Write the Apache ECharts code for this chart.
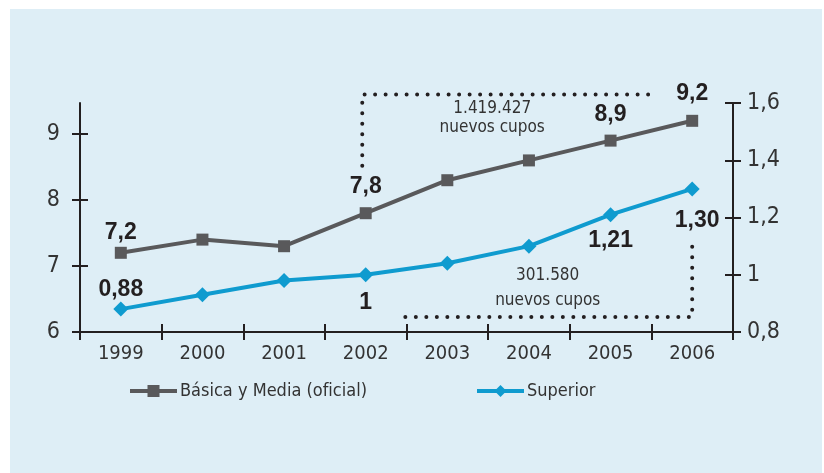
<!DOCTYPE html>
<html lang="es">
<head>
  <meta charset="UTF-8">
  <title>Cupos</title>
  <style>
    html, body { margin: 0; padding: 0; background: #fff; }
    #chart {
      width: 824px; height: 473px;
      background: linear-gradient(#deeef6, #deeef6) no-repeat 10px 9px / 812px 464px, #fff;
    }
  </style>
</head>
<body>
  <div id="chart"></div>
</body>

<script src="https://cdn.jsdelivr.net/npm/echarts@6/dist/echarts.min.js"></script>

<script>
  // datos
  const years = ['1999', '2000', '2001', '2002', '2003', '2004', '2005', '2006'];
  const basica = [7.2, 7.4, 7.3, 7.8, 8.3, 8.6, 8.9, 9.2];
  const superior = [0.88, 0.93, 0.98, 1.00, 1.04, 1.10, 1.21, 1.30];
  const leftTicks = [6, 7, 8, 9];
  const rightTicks = [0.8, 1, 1.2, 1.4, 1.6];
  const notaBasica = ['1.419.427', 'nuevos cupos'];
  const notaSuperior = ['301.580', 'nuevos cupos'];

  // which points get a value label, and where
  const basicaLabels = {
    0: { position: 'top', distance: 3 },
    3: { position: 'top', distance: 9 },
    6: { position: 'top', distance: 8 },
    7: { position: 'top', distance: 10 }
  };
  const superiorLabels = {
    0: { position: 'top', distance: 0 },
    3: { position: 'bottom', distance: 9 },
    6: { position: 'bottom', distance: 7 },
    7: { position: 'bottom', distance: 13, offset: [5, 0] }
  };

  const narrow = "'Liberation Sans Narrow', 'DejaVu Sans Condensed', 'Roboto', sans-serif";
  const dark = '#231f20';
  const gris = '#59595b';
  const azul = '#0f9bcf';

  const fmt = (v, dec) => String(+(+v).toFixed(dec)).replace('.', ',');
  const fmt2 = v => {
    const s = (+v).toFixed(2);
    return s.endsWith('.00') ? s.slice(0, -3) : s.replace('.', ',');
  };

  const valueLabel = {
    fontSize: 23,
    fontWeight: 'bold',
    color: dark,
    fontFamily: "'Liberation Sans', Arial, sans-serif"
  };

  function buildData(values, labels, formatter) {
    return values.map((v, i) => {
      const cfg = labels[i];
      if (!cfg) return { value: v, label: { show: false } };
      return {
        value: v,
        label: Object.assign({ show: true, formatter: () => formatter(v) }, valueLabel, cfg)
      };
    });
  }

  const myChart = echarts.init(document.getElementById('chart'));

  const axisLine = { show: true, lineStyle: { color: dark, width: 2 } };
  const legendBase = {
    top: 382,
    padding: 0,
    itemWidth: 47, itemHeight: 15, itemGap: 0,
    lineStyle: { width: 4 },
    textStyle: { fontSize: 18, color: '#333', fontFamily: narrow, padding: [0, 0, 0, -2] }
  };

  const option = {
    animation: false,
    textStyle: { fontFamily: narrow },
    grid: { left: 80, right: 91, top: 103, bottom: 141 },
    legend: [
      Object.assign({ data: ['Básica y Media (oficial)'], left: 128 }, legendBase),
      Object.assign({ data: ['Superior'], left: 475 }, legendBase)
    ],
    xAxis: [
      {
        type: 'category',
        data: years,
        boundaryGap: true,
        axisLine: axisLine,
        axisTick: { show: true, length: 8, lineStyle: { color: dark, width: 2 } },
        axisLabel: { fontSize: 20, color: '#333', margin: 12, fontFamily: narrow }
      },
      {
        type: 'category',
        data: years,
        position: 'bottom',
        boundaryGap: true,
        axisLine: { show: false },
        axisTick: { show: true, inside: true, length: 8, lineStyle: { color: dark, width: 2 } },
        axisLabel: { show: false }
      }
    ],
    yAxis: [
      {
        type: 'value',
        min: 6, max: 9.47,
        position: 'left',
        splitLine: { show: false },
        axisLine: axisLine,
        axisTick: { show: true, length: 8, customValues: leftTicks, lineStyle: { color: dark, width: 2 } },
        axisLabel: { fontSize: 23, color: '#333', margin: 20, customValues: leftTicks, fontFamily: narrow }
      },
      {
        type: 'value',
        min: 0.8, max: 1.6, interval: 0.2,
        position: 'right',
        splitLine: { show: false },
        axisLine: axisLine,
        axisTick: { show: true, length: 8, lineStyle: { color: dark, width: 2 } },
        axisLabel: { fontSize: 23, color: '#333', margin: 14, fontFamily: narrow, formatter: v => fmt(v, 1) }
      },
      {
        type: 'value',
        min: 6, max: 9.47,
        position: 'left',
        splitLine: { show: false },
        axisLine: { show: false },
        axisTick: { show: true, inside: true, length: 8, customValues: leftTicks, lineStyle: { color: dark, width: 2 } },
        axisLabel: { show: false }
      },
      {
        type: 'value',
        min: 0.8, max: 1.6, interval: 0.2,
        position: 'right',
        splitLine: { show: false },
        axisLine: { show: false },
        axisTick: { show: true, inside: true, length: 8, lineStyle: { color: dark, width: 2 } },
        axisLabel: { show: false }
      }
    ],
    series: [
      {
        name: 'Básica y Media (oficial)',
        type: 'line',
        yAxisIndex: 0,
        symbol: 'rect',
        symbolSize: 12,
        color: gris,
        lineStyle: { color: gris, width: 4 },
        itemStyle: { color: gris },
        data: buildData(basica, basicaLabels, v => fmt(v, 1)),
        z: 3
      },
      {
        name: 'Superior',
        type: 'line',
        yAxisIndex: 1,
        symbol: 'diamond',
        symbolSize: 15,
        color: azul,
        lineStyle: { color: azul, width: 4 },
        itemStyle: { color: azul },
        data: buildData(superior, superiorLabels, fmt2),
        z: 3
      }
    ]
  };

  myChart.setOption(option);

  // dotted brackets, anchored in (category index, left-axis value);
  // the category axis snaps to whole indices, so interpolate between bands
  const px = p => {
    const a = myChart.convertToPixel({ xAxisIndex: 0, yAxisIndex: 0 }, [0, p[1]]);
    const b = myChart.convertToPixel({ xAxisIndex: 0, yAxisIndex: 0 }, [1, p[1]]);
    return [a[0] + p[0] * (b[0] - a[0]), a[1]];
  };
  const dots = { stroke: dark, lineWidth: 4, lineCap: 'round', lineDash: [0, 10.5], fill: null };
  const note = (p, text) => {
    const q = px(p);
    return {
      type: 'text', x: q[0], y: q[1], z: 10,
      style: { text: text, fill: '#333', font: '17px ' + narrow, align: 'center', verticalAlign: 'middle' }
    };
  };

  myChart.setOption({
    graphic: [
      { type: 'polyline', z: 10, shape: { points: [px([2.958, 8.52]), px([2.958, 9.598]), px([6.56, 9.598])] }, style: dots },
      { type: 'polyline', z: 10, shape: { points: [px([7, 7.29]), px([7, 6.227]), px([3.44, 6.227])] }, style: dots },
      note([4.55, 9.39], notaBasica[0]),
      note([4.55, 9.09], notaBasica[1]),
      note([5.23, 6.86], notaSuperior[0]),
      note([5.23, 6.48], notaSuperior[1])
    ]
  });
</script>

</html>
